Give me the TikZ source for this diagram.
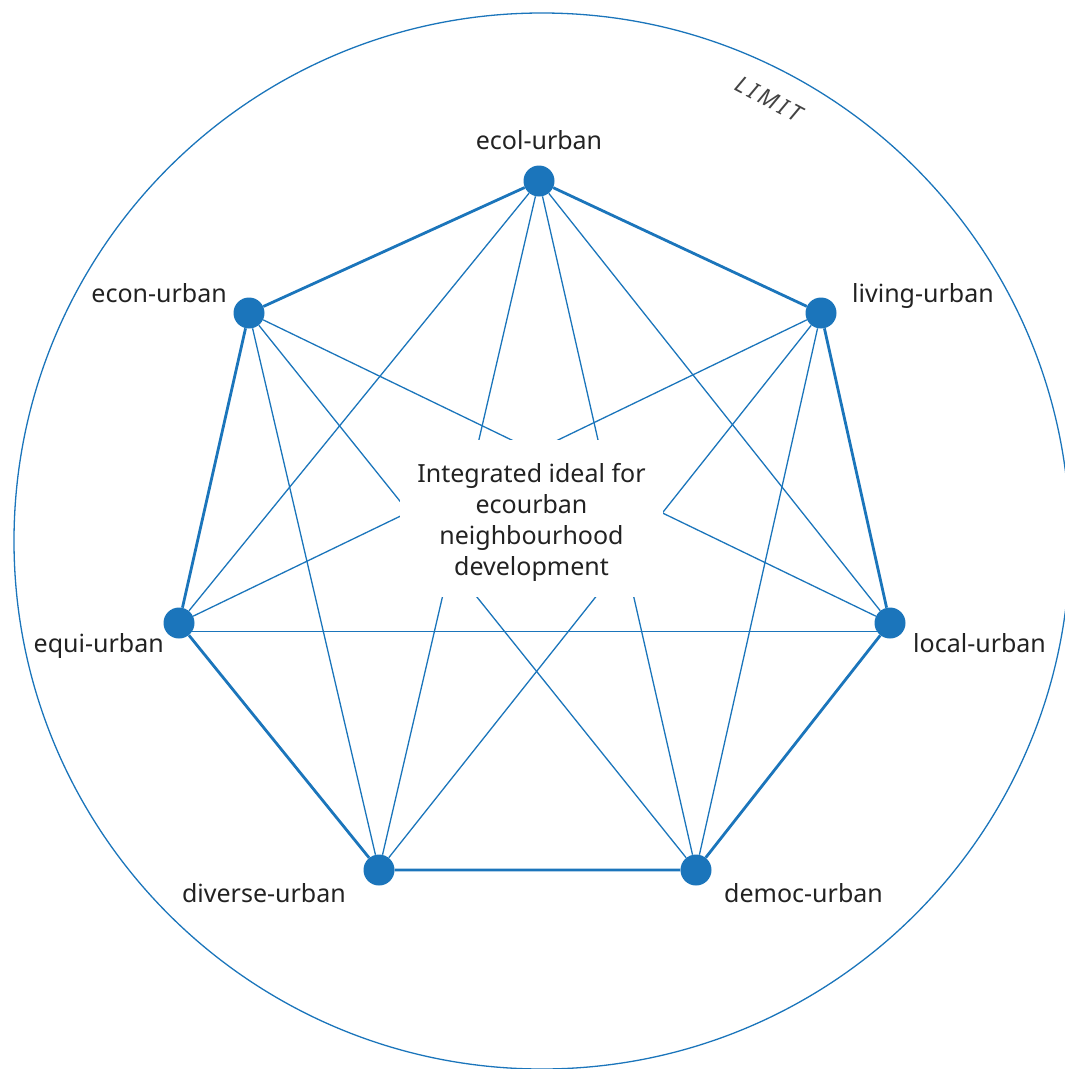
\documentclass[tikz,border=0pt]{standalone}
\usepackage{fontspec}
\setmainfont{Noto Sans}
\newfontfamily\limitfont[LetterSpace=16]{Noto Sans}
\usepackage{tikz}
\usepackage{xcolor}
\definecolor{ecoblue}{HTML}{1B75BB}
\definecolor{inkgray}{HTML}{222222}

\begin{document}
\begin{tikzpicture}[x=1pt,y=-1pt,
        dot/.style={circle, fill=ecoblue, inner sep=0pt, minimum size=31pt},
        rim/.style={draw=ecoblue, line width=2.8pt},
        spoke/.style={draw=ecoblue, line width=1.3pt},
        lbl/.style={text=inkgray, inner sep=0pt, font=\fontsize{25}{31}\selectfont}]
        \useasboundingbox (0,0) rectangle (1065,1069);
        \clip (0,0) rectangle (1065,1069);
        \draw[ecoblue, line width=1.3pt] (542,541) circle (528pt);
        \node[rotate=-28, text=inkgray!85, inner sep=0pt, font=\limitfont\itshape\fontsize{23}{27}\selectfont] (limit) at (769,99) {LIMIT};
        \node[dot] (ecol) at (539,181) {};
        \node[dot] (living) at (821,313) {};
        \node[dot] (local) at (890,623) {};
        \node[dot] (democ) at (696,870) {};
        \node[dot] (diverse) at (379,870) {};
        \node[dot] (equi) at (179,623) {};
        \node[dot] (econ) at (249,313) {};
        \draw[rim] (ecol) -- (living) -- (local) -- (democ) -- (diverse) -- (equi) -- (econ) -- (ecol);
        \draw[spoke] (ecol) -- (local);
        \draw[spoke] (ecol) -- (democ);
        \draw[spoke] (ecol) -- (diverse);
        \draw[spoke] (ecol) -- (equi);
        \draw[spoke] (living) -- (democ);
        \draw[spoke] (living) -- (diverse);
        \draw[spoke] (living) -- (equi);
        \draw[spoke] (econ) -- (local);
        \draw[spoke] (econ) -- (democ);
        \draw[spoke] (econ) -- (diverse);
        \draw[spoke] ([yshift=-8.5pt]equi.center) -- ([yshift=-8.5pt]local.center);
        % white patch behind the middle text
        \fill[white] (400,440) rectangle (663,597);
        \node[lbl, align=center] (ideal) at (531.5,522) {Integrated ideal for\\ecourban\\neighbourhood\\development};
        \node[lbl, anchor=base] (ecollbl) at (539,149) {ecol-urban};
        \node[lbl, anchor=base west] (livinglbl) at (852,302) {living-urban};
        \node[lbl, anchor=base west] (locallbl) at (913,652) {local-urban};
        \node[lbl, anchor=base west] (democlbl) at (724,902) {democ-urban};
        \node[lbl, anchor=base east] (diverselbl) at (346,902) {diverse-urban};
        \node[lbl, anchor=base east] (equilbl) at (164,652) {equi-urban};
        \node[lbl, anchor=base east] (econlbl) at (227,302) {econ-urban};
\end{tikzpicture}
\end{document}
